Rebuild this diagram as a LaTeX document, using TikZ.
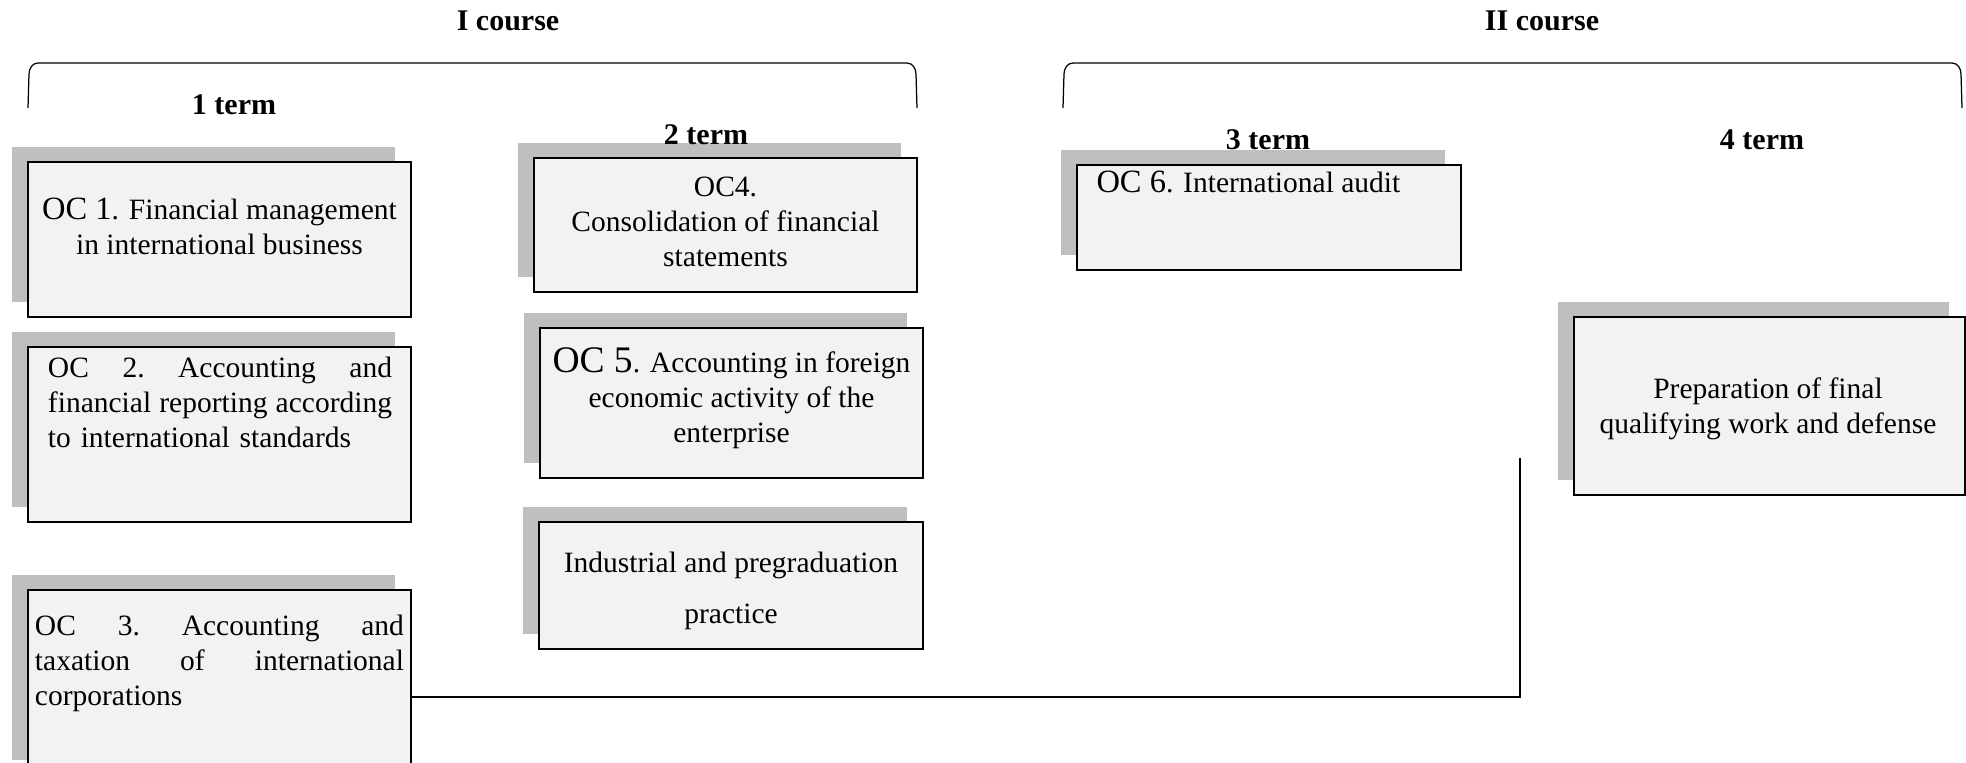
\documentclass[tikz,border=0pt]{standalone}
\usepackage{fontspec}
\setmainfont{Liberation Serif}
\usetikzlibrary{shadows}
\definecolor{boxfill}{HTML}{F2F2F2}
\definecolor{shadowgray}{HTML}{BFBFBF}
\begin{document}
\begin{tikzpicture}[x=0.4pt,y=-0.4pt,
  box/.style={draw=black, line width=0.6pt, fill=boxfill, inner sep=0pt,
    drop shadow={shadow xshift=-6.4pt, shadow yshift=6.2pt, fill=shadowgray, opacity=1}},
  txt/.style={font=\fontsize{11.8}{14}\selectfont, align=center, inner sep=0pt},
  lbl/.style={font=\fontsize{12}{14}\selectfont\bfseries, inner sep=0pt},
  brace/.style={line width=0.5pt},
  conn/.style={line width=0.5pt}]
\clip (0,0) rectangle (1966,762);
\fill[white] (0,0) rectangle (1966,762);
% boxes
\node[box, minimum width=153.2pt, minimum height=62pt] (oc1) at (219.5,239.5) {};
\node[box, minimum width=153.2pt, minimum height=70pt] (oc2) at (219.5,434.5) {};
\node[box, minimum width=153.2pt, minimum height=74pt] (oc3) at (219.5,682.5) {};
\node[box, minimum width=153.2pt, minimum height=53.6pt] (oc4) at (725.5,225) {};
\node[box, minimum width=153.2pt, minimum height=60pt] (oc5) at (731.5,403) {};
\node[box, minimum width=153.6pt, minimum height=50.8pt] (ind) at (731,585.5) {};
\node[box, minimum width=153.6pt, minimum height=42pt] (oc6) at (1269,217.5) {};
\node[box, minimum width=156.4pt, minimum height=71.2pt] (fin) at (1769.5,406) {};
% texts
\node[txt] (t1) at (219.5,226) {{\fontsize{13}{14}\selectfont OC 1}. Financial management\\in international business};
\node[txt, align=left, text width=137.6pt] (t2) at (220,402) {\makebox[137.6pt][s]{OC\hfill 2.\hfill Accounting\hfill and}\\\makebox[137.6pt][s]{financial\hfill reporting\hfill according}\\to international standards};
\node[txt, align=left, text width=147.6pt] (t3) at (219.5,663) {\makebox[147.6pt][s]{OC\hfill 3.\hfill Accounting\hfill and}\\\makebox[147.6pt][s]{taxation\hfill of\hfill international}\\corporations};
\node[txt] (t4) at (725.5,222) {OC4.\\Consolidation of financial\\statements};
\node[txt] (t5) at (731.5,398) {{\fontsize{15}{14}\selectfont OC 5}. Accounting in foreign\\economic activity of the\\enterprise};
\node[txt, font=\fontsize{11.8}{20.4}\selectfont] (t6) at (731,591) {Industrial and pregraduation\\practice};
\node[txt, anchor=west] (t7) at (1096,182) {{\fontsize{13}{14}\selectfont OC 6}. International audit};
\node[txt] (t8) at (1768,409) {Preparation of final\\qualifying work and defense};
% labels
\node[lbl] (c1) at (508,21) {I course};
\node[lbl] (c2) at (1542,21) {II course};
\node[lbl] (s1) at (234,105) {1 term};
\node[lbl] (s2) at (706,135) {2 term};
\node[lbl] (s3) at (1268,140) {3 term};
\node[lbl] (s4) at (1762,140) {4 term};
% braces
\draw[brace] (28,108) -- (29,74) to[out=90,in=180] (38,63) -- (907,63) to[out=0,in=90] (916,74) -- (917,108);
\draw[brace] (1063,108) -- (1064,74) to[out=90,in=180] (1073,63) -- (1952,63) to[out=0,in=90] (1961,74) -- (1962,108);
% connector
\coordinate (ccorner) at (1520,697);
\coordinate (cend) at (1520,458);
\draw[conn] (oc3.east |- ccorner) -- (ccorner) -- (cend);
\end{tikzpicture}
\end{document}
